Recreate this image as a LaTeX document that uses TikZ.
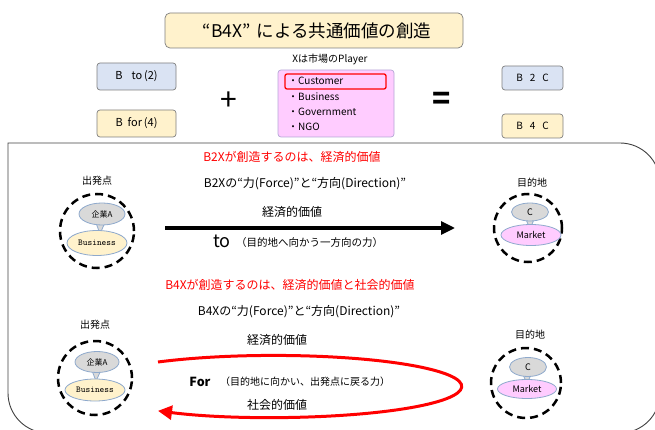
\documentclass[tikz,border=0pt]{standalone}
\usepackage{fontspec}
\setmainfont{Noto Sans CJK JP}
\usetikzlibrary{shapes.geometric,arrows.meta}
\definecolor{titleY}{HTML}{FFF2CC}
\definecolor{boxB}{HTML}{DAE3F3}
\definecolor{boxP}{HTML}{FFCCFF}
\definecolor{bord}{HTML}{7F7F7F}
\definecolor{ellB}{HTML}{8EA9CC}
\definecolor{grayF}{HTML}{D9D9D9}
\definecolor{pinkB}{HTML}{B4A7D6}
\begin{document}
\begin{tikzpicture}[x=1pt,y=-1pt,
  fs/.style={font=\fontsize{#1}{#1}\selectfont},
  topbox/.style={draw=bord, line width=0.7pt, rounded corners=3pt, inner sep=0pt},
  dashcirc/.style={circle, draw=black, line width=2.5pt, dash pattern=on 8pt off 5pt, inner sep=0pt},
  bubble/.style={ellipse, draw=ellB, line width=0.8pt, fill=grayF, inner sep=0pt},
  lowell/.style={ellipse, draw=ellB, line width=0.8pt, inner sep=0pt},
  lbl/.style={fs=10, inner sep=0pt}
]
\useasboundingbox (0,0) rectangle (655,430);
\begin{scope}
\clip (0,0) rectangle (655,430);
\draw[line width=0.9pt, draw=black!75] (8,143) [rounded corners=40pt] -- (660,143) -- (660,433) -- (8,433) [sharp corners]-- cycle;
\end{scope}
% title
\node[topbox, fill=titleY, rounded corners=5pt, minimum width=298pt, minimum height=35pt] (title) at (314,30.5) {};
\node[fs=17.5, inner sep=0pt] (titletext) at (317,30.5) {“B4X”\hspace{6pt}による共通価値の創造};
% top row
\node[lbl] (xplayer) at (330,59) {Xは市場のPlayer};
\node[topbox, fill=boxB, minimum width=79pt, minimum height=27pt, fs=11] (bto) at (136.5,76.5) {B\hspace{9pt}to\,(2)};
\node[topbox, fill=titleY, minimum width=79pt, minimum height=27pt, fs=11] (bfor) at (136.5,123.5) {B\hspace{5pt}for\,(4)};
\node[fs=30, inner sep=0pt] (plus) at (229,101) {+};
\node[topbox, draw=pinkB, fill=boxP, minimum width=116pt, minimum height=67pt] (xbox) at (336,103.5) {};
\node[draw=red, line width=1.3pt, rounded corners=2pt, minimum width=101pt, minimum height=15pt, inner sep=0pt] (cust) at (335.5,81.5) {};
\node[lbl, anchor=west] (i1) at (288,81) {・Customer};
\node[lbl, anchor=west] (i2) at (288,97) {・Business};
\node[lbl, anchor=west] (i3) at (288,112) {・Government};
\node[lbl, anchor=west] (i4) at (288,127) {・NGO};
\node[fs=30, inner sep=0pt] (eq) at (442,101) {\textbf{=}};
\node[topbox, fill=boxB, minimum width=61pt, minimum height=24pt, fs=10] (b2c) at (532.5,78) {B\hspace{7pt}2\hspace{7pt}C};
\node[topbox, fill=titleY, minimum width=61pt, minimum height=24pt, fs=10] (b4c) at (532.5,126) {B\hspace{7pt}4\hspace{7pt}C};
% row 1
\node[fs=12, text=red, inner sep=0pt] (r1red) at (292,157) {B2Xが創造するのは、経済的価値};
\node[fs=12, inner sep=0pt] (r1force) at (305,184) {B2Xの“力(Force)”と“方向(Direction)”};
\node[lbl] (s1lbl) at (97,181) {出発点};
\node[dashcirc, minimum size=74pt] (s1) at (97,231) {};
\fill[grayF, draw=ellB, line width=0.8pt] (95,220) -- (106,220) -- (100,234) -- cycle;
\node[bubble, minimum width=46pt, minimum height=22pt, fs=8] (s1a) at (102,214) {企業A};
\node[lowell, fill=titleY, minimum width=60pt, minimum height=25pt, fs=9] (s1b) at (97,243) {\ttfamily Business};
\node[lbl] (e1lbl) at (532,183) {目的地};
\node[dashcirc, minimum size=68pt] (e1) at (528,228) {};
\fill[grayF, draw=ellB, line width=0.8pt] (525,217) -- (535,217) -- (530,229) -- cycle;
\node[bubble, minimum width=37pt, minimum height=18pt, fs=9] (e1a) at (530,212) {C};
\node[lowell, fill=boxP, minimum width=60pt, minimum height=21pt, fs=9] (e1b) at (531,235) {Market};
\coordinate (a1s) at (165,228);
\coordinate (a1e) at (455,228);
\draw[line width=3.2pt, -{Triangle[length=14pt,width=13pt]}] (a1s) -- (a1e);
\node[fs=12, inner sep=0pt] (v1) at (292,212) {経済的価値};
\node[fs=18, inner sep=0pt] (to) at (222,241) {to};
\node[fs=10.5, inner sep=0pt, anchor=west] (tonote) at (236,243) {（目的地へ向かう一方向の力）};
% row 2
\node[fs=12, text=red, inner sep=0pt] (r2red) at (290,285) {B4Xが創造するのは、経済的価値と社会的価値};
\node[fs=12, inner sep=0pt] (r2force) at (299,312) {B4Xの“力(Force)”と“方向(Direction)”};
\node[lbl] (s2lbl) at (95,325) {出発点};
\node[dashcirc, minimum size=74pt] (s2) at (95,378) {};
\fill[grayF, draw=ellB, line width=0.8pt] (91,368) -- (102,368) -- (96,381) -- cycle;
\node[bubble, minimum width=44pt, minimum height=21pt, fs=8] (s2a) at (97,362) {企業A};
\node[lowell, fill=titleY, minimum width=60pt, minimum height=22pt, fs=9] (s2b) at (95,390) {\ttfamily Business};
\node[lbl] (e2lbl) at (530,335) {目的地};
\node[dashcirc, minimum size=70pt] (e2) at (526,383) {};
\fill[grayF, draw=ellB, line width=0.8pt] (522,372) -- (532,372) -- (527,384) -- cycle;
\node[bubble, minimum width=37pt, minimum height=19pt, fs=9] (e2a) at (528,367) {C};
\node[lowell, fill=boxP, minimum width=59pt, minimum height=19pt, fs=9] (e2b) at (527,389) {Market};
\coordinate (r2s) at (158,362);
\draw[red, line width=3pt, -{Triangle[length=14pt,width=14pt]}] (r2s) arc[start angle=128, end angle=-128, x radius=188pt, y radius=31pt];
\node[fs=12, inner sep=0pt] (v2) at (277,340) {経済的価値};
\node[fs=12.5, inner sep=0pt] (for) at (200,382) {\textbf{For}};
\node[fs=10, inner sep=0pt, anchor=west] (fornote) at (220,382) {（目的地に向かい、出発点に戻る力）};
\node[fs=12, inner sep=0pt] (v3) at (277,405) {社会的価値};
\end{tikzpicture}
\end{document}
